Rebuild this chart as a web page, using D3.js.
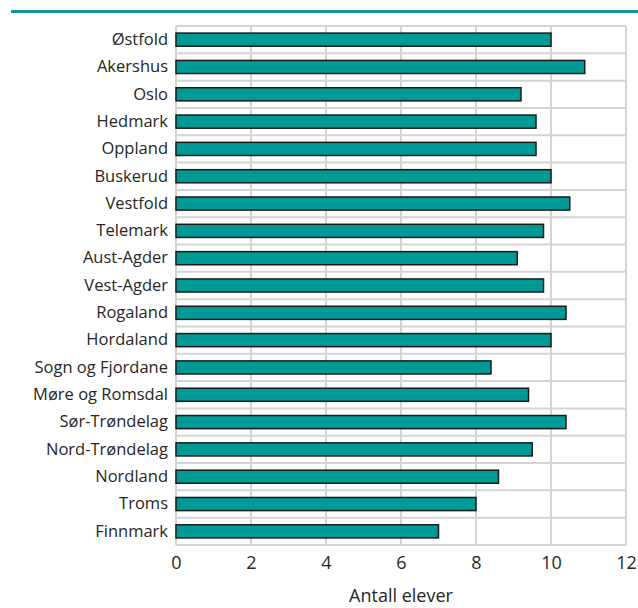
<!DOCTYPE html>
<html><head><meta charset="utf-8">
<script src="https://cdn.jsdelivr.net/npm/d3@7"></script>
<style>body{margin:0;background:#fff}svg{display:block}text{font-family:"Open Sans","Noto Sans",sans-serif;font-weight:400;fill:#262626}</style>
</head><body><svg id="c" width="638" height="608"></svg>
<script>
const categories=["Østfold","Akershus","Oslo","Hedmark","Oppland","Buskerud","Vestfold","Telemark","Aust-Agder","Vest-Agder","Rogaland","Hordaland","Sogn og Fjordane","Møre og Romsdal","Sør-Trøndelag","Nord-Trøndelag","Nordland","Troms","Finnmark"];
const values=[10.0,10.9,9.2,9.6,9.6,10.0,10.5,9.8,9.1,9.8,10.4,10.0,8.4,9.4,10.4,9.5,8.6,8.0,7.0];
const xTicks=[0,2,4,6,8,10,12];
const xTitle="Antall elever";

const FONT='"Open Sans","Noto Sans",sans-serif';
const svg=d3.select("#c");
const L=176,R=626,T=26,B=545;
const x=d3.scaleLinear().domain([0,12]).range([L,R]);
const y=d3.scaleBand().domain(categories).range([T,B]).paddingInner(0.52).paddingOuter(0.26);

svg.append("line").attr("x1",11).attr("x2",638).attr("y1",11.5).attr("y2",11.5).attr("stroke","#0d9a96").attr("stroke-width",3);

const g=svg.append("g");
g.selectAll(".vg").data(xTicks).join("line").attr("x1",d=>x(d)).attr("x2",d=>x(d)).attr("y1",T).attr("y2",B).attr("stroke","#d4d4d4").attr("stroke-width",2);
const step=(B-T)/categories.length;
const hb=d3.range(categories.length+1);
g.selectAll(".hg").data(hb).join("line").attr("x1",L).attr("x2",R).attr("y1",d=>T+d*step).attr("y2",d=>T+d*step).attr("stroke","#d4d4d4").attr("stroke-width",2);

svg.selectAll(".bar").data(values).join("rect")
 .attr("x",x(0)).attr("y",(d,i)=>y(categories[i]))
 .attr("width",d=>x(d)-x(0)).attr("height",y.bandwidth())
 .attr("fill","#009a96").attr("stroke","#1a1a1a").attr("stroke-width",1.5);

const ya=svg.append("g").attr("transform",`translate(${L-8},0)`).call(d3.axisLeft(y).tickSize(0).tickPadding(0));
ya.select(".domain").remove();
ya.attr("font-size",16.5).attr("font-family",FONT);
ya.selectAll("text").attr("fill","#262626");

const xa=svg.append("g").attr("transform",`translate(0,${B})`).call(d3.axisBottom(x).tickValues(xTicks).tickSize(0).tickPadding(11));
xa.select(".domain").remove();
xa.attr("font-size",18).attr("font-family",FONT);
xa.selectAll("text").attr("fill","#262626");

svg.append("text").attr("x",x(6)).attr("y",602).attr("text-anchor","middle").attr("font-size",18).attr("font-family",FONT).text(xTitle);
</script></body></html>
